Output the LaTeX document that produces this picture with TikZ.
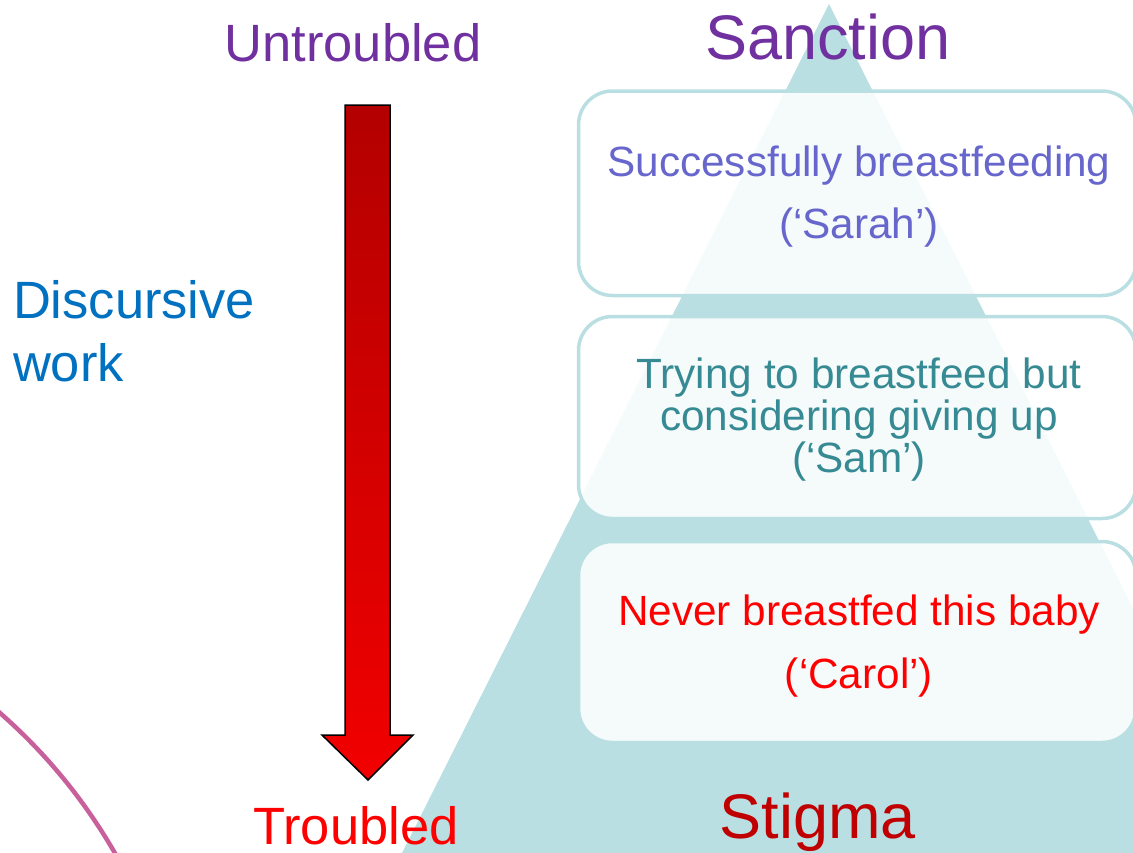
\documentclass[tikz,border=0pt]{standalone}
\usepackage{fontspec}
\setmainfont{Liberation Sans}
\definecolor{trifill}{HTML}{B9DFE2}
\definecolor{tierline}{HTML}{B9DFE2}
\definecolor{purp}{HTML}{7030A0}
\definecolor{dblue}{HTML}{0070C0}
\definecolor{slate}{HTML}{6666CC}
\definecolor{tealtxt}{HTML}{358A93}
\definecolor{brightred}{HTML}{FF0000}
\definecolor{darkred}{HTML}{C00000}
\definecolor{arctone}{HTML}{C8609C}
\definecolor{arrtop}{HTML}{B30000}
\definecolor{arrbot}{HTML}{F20000}
\begin{document}
\begin{tikzpicture}[x=1pt,y=-1pt,
  lbl/.style={inner sep=0pt, outer sep=0pt, anchor=base},
  big/.style={lbl, font=\fontsize{52.5}{60}\selectfont},
  huge/.style={lbl, font=\fontsize{63}{70}\selectfont},
  tiertxt/.style={lbl, font=\fontsize{42.3}{50}\selectfont},
  tier/.style={draw=tierline, line width=3.5pt, fill=white, fill opacity=0.86,
    rounded corners=34pt, inner sep=0pt, outer sep=0pt},
]
\useasboundingbox (0,0) rectangle (1133,852);
\begin{scope}
\clip (0,0) rectangle (1133,852);
% pyramid
\fill[trifill] (829,4) -- (1262,865) -- (396,865) -- cycle;
% tiers
\draw[tier] (578.5,91) rectangle (1136,295.5);
\draw[tier] (578.5,316.5) rectangle (1136,518.5);
\draw[tier] (578.5,541.5) rectangle (1136,742.5);
% pink arc
\draw[arctone, line width=4.5pt] (-363,1127.5) circle[radius=551];
\end{scope}
% arrow
\shade[top color=arrtop, bottom color=arrbot, draw=black, line width=1.5pt, line join=miter]
  (345,105) -- (390,105) -- (390,735) -- (413,735) -- (368,780) -- (322,735) -- (345,735) -- cycle;
% labels
\node[big, text=purp] (untr) at (353,61) {Untroubled};
\node[huge, text=purp] (sanc) at (828,59) {Sanction};
\node[big, text=dblue, anchor=base west] (disc1) at (13,318) {Discursive};
\node[big, text=dblue, anchor=base west] (disc2) at (13,381) {work};
\node[big, text=brightred] (trou) at (356,844) {Troubled};
\node[huge, text=darkred] (stig) at (818,838) {Stigma};
% tier texts
\node[tiertxt, text=slate] (t1a) at (859,176) {Successfully breastfeeding};
\node[tiertxt, text=slate] (t1b) at (859,238) {(‘Sarah’)};
\node[tiertxt, text=tealtxt] (t2a) at (859,388) {Trying to breastfeed but};
\node[tiertxt, text=tealtxt] (t2b) at (859,430) {considering giving up};
\node[tiertxt, text=tealtxt] (t2c) at (859,472) {(‘Sam’)};
\node[tiertxt, text=brightred] (t3a) at (859,625) {Never breastfed this baby};
\node[tiertxt, text=brightred] (t3b) at (859,688) {(‘Carol’)};
\end{tikzpicture}
\end{document}
